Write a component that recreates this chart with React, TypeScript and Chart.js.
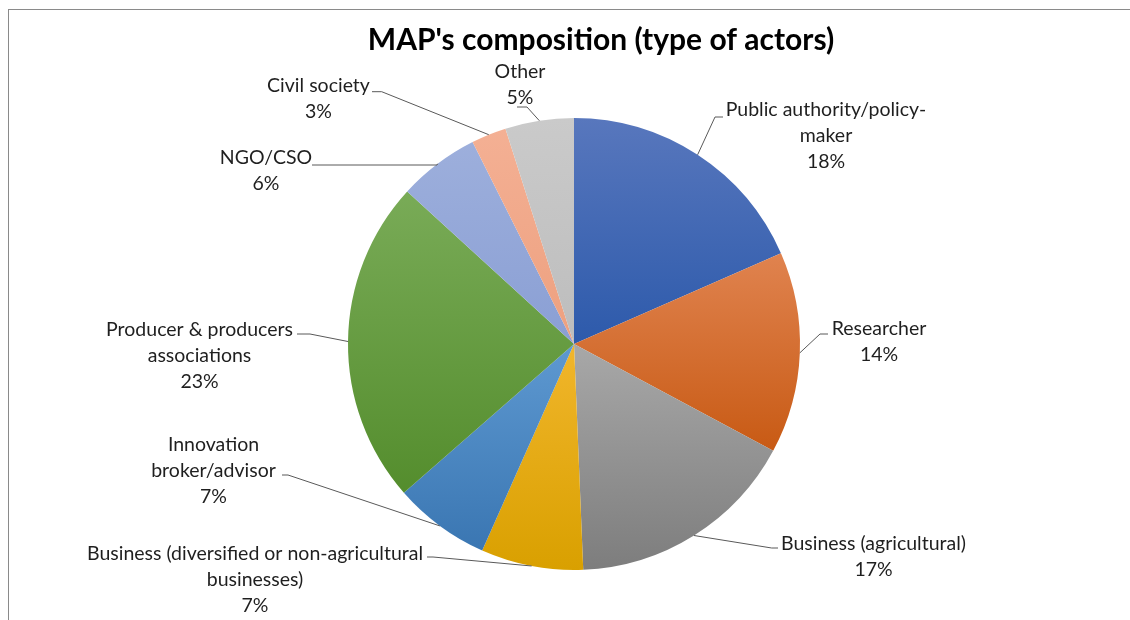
import React, { useEffect, useRef } from "react";
import { Chart, registerables } from "chart.js";

Chart.register(...registerables);

const chartTitle = "MAP's composition (type of actors)";

const categories: string[][] = [
  ["Public authority/policy-", "maker"],
  ["Researcher"],
  ["Business (agricultural)"],
  ["Business (diversified or non-agricultural", "businesses)"],
  ["Innovation", "broker/advisor"],
  ["Producer & producers", "associations"],
  ["NGO/CSO"],
  ["Civil society"],
  ["Other"],
];

const shares: number[] = [18.4, 14.4, 16.5, 7.3, 6.9, 23.2, 5.8, 2.5, 4.9];

const topColors: string[] = [
  "#5877bd",
  "#e0834f",
  "#a8a8a8",
  "#f1b62c",
  "#5e99d1",
  "#79ab57",
  "#9dafdc",
  "#f4b094",
  "#cacaca",
];

const bottomColors: string[] = [
  "#2d5aab",
  "#c85a14",
  "#7d7d7d",
  "#d9a000",
  "#3a76b2",
  "#548d2d",
  "#8a9fd4",
  "#eda07f",
  "#bdbdbd",
];

// label placement relative to the pie centre (px): first-line text centre,
// leader elbow point, and the x where the horizontal leader ends
const labelLayout = [
  { tx: 252, ty: -234, ex: 141, ey: -227, hx: 149 },
  { tx: 305, ty: -15, ex: 246, ey: -10, hx: 254 },
  { tx: 299.5, ty: 199.3, ex: 197.7, ey: 204, hx: 204 },
  { tx: -319, ty: 209.3, ex: -141, ey: 213, hx: -147 },
  { tx: -360.5, ty: 101, ex: -286, ey: 131, hx: -292 },
  { tx: -374.5, ty: -14, ex: -264, ey: -10, hx: -277 },
  { tx: -308, ty: -186, ex: -137, ey: -179, hx: -262 },
  { tx: -255.5, ty: -258, ex: -192.3, ey: -252.3, hx: -202 },
  { tx: -54, ty: -272, ex: -47, ey: -237, hx: -57 },
];

const LABEL_FONT = "19.5px Lato, 'Open Sans', sans-serif";
const TITLE_FONT = "bold 30px Lato, 'Open Sans', sans-serif";
const LINE_H = 26;

function sliceGradient(ctx: any) {
  const i = ctx.dataIndex;
  const chart = ctx.chart;
  const area = chart.chartArea;
  if (!area) return topColors[i];
  const cx = (area.left + area.right) / 2;
  const cy = (area.top + area.bottom) / 2;
  const r = Math.min(area.right - area.left, area.bottom - area.top) / 2;
  const total = shares.reduce((a, b) => a + b, 0);
  let before = 0;
  for (let k = 0; k < i; k++) before += shares[k];
  const a0 = (before / total) * Math.PI * 2;
  const a1 = ((before + shares[i]) / total) * Math.PI * 2;
  const ys = [cy, cy - r * Math.cos(a0), cy - r * Math.cos(a1)];
  if (a0 <= 0 + 1e-9 || a1 >= Math.PI * 2 - 1e-9) ys.push(cy - r);
  if (a0 <= Math.PI && a1 >= Math.PI) ys.push(cy + r);
  const yTop = Math.min(...ys);
  const yBot = Math.max(...ys);
  const g = chart.ctx.createLinearGradient(0, yTop, 0, yBot);
  g.addColorStop(0, topColors[i]);
  g.addColorStop(1, bottomColors[i]);
  return g;
}

const labelPlugin = {
  id: "excelLabels",
  afterDatasetsDraw(chart: any) {
    const ctx = chart.ctx;
    const meta = chart.getDatasetMeta(0);
    const data = chart.data.datasets[0].data as number[];
    const total = data.reduce((a, b) => a + b, 0);
    ctx.save();
    meta.data.forEach((el: any, i: number) => {
      const p = el.getProps(["x", "y", "startAngle", "endAngle", "outerRadius"], true);
      const mid = (p.startAngle + p.endAngle) / 2;
      const ax = p.x + Math.cos(mid) * p.outerRadius;
      const ay = p.y + Math.sin(mid) * p.outerRadius;
      const L = labelLayout[i];
      ctx.beginPath();
      ctx.strokeStyle = "#595959";
      ctx.lineWidth = 1;
      ctx.moveTo(ax, ay);
      ctx.lineTo(p.x + L.ex, p.y + L.ey);
      ctx.lineTo(p.x + L.hx, p.y + L.ey);
      ctx.stroke();
      const lines = [...categories[i], Math.round((data[i] / total) * 100) + "%"];
      ctx.fillStyle = "#1f1f1f";
      ctx.font = LABEL_FONT;
      ctx.textAlign = "center";
      ctx.textBaseline = "middle";
      lines.forEach((t, k) => {
        ctx.fillText(t, p.x + L.tx, p.y + L.ty + k * LINE_H);
      });
    });
    ctx.restore();
  },
  afterDraw(chart: any) {
    const ctx = chart.ctx;
    ctx.save();
    ctx.fillStyle = "#000000";
    ctx.font = TITLE_FONT;
    ctx.textAlign = "center";
    ctx.textBaseline = "middle";
    ctx.fillText(chartTitle, 601, 40);
    ctx.restore();
  },
};

export default function App() {
  const ref = useRef<HTMLCanvasElement | null>(null);
  useEffect(() => {
    if (!ref.current) return;
    const chart = new Chart(ref.current, {
      type: "pie",
      data: {
        labels: categories,
        datasets: [
          {
            data: shares,
            backgroundColor: sliceGradient as any,
            borderWidth: 0,
          },
        ],
      },
      options: {
        responsive: false,
        animation: false,
        events: [],
        layout: { padding: { left: 348, top: 118, right: 330, bottom: 50 } },
        plugins: {
          legend: { display: false },
          tooltip: { enabled: false },
          title: { display: false },
        },
      },
      plugins: [labelPlugin],
    });
    return () => chart.destroy();
  }, []);
  return (
    <div
      style={{
        position: "fixed",
        left: 0,
        top: 0,
        width: 1130,
        height: 620,
        overflow: "hidden",
        background: "#ffffff",
      }}
    >
      <div
        style={{
          position: "absolute",
          left: 8,
          top: 9,
          width: 1200,
          height: 700,
          borderTop: "1px solid #8a8a8a",
          borderLeft: "1px solid #8a8a8a",
        }}
      />
      <canvas
        ref={ref}
        width={1130}
        height={620}
        style={{ position: "absolute", left: 0, top: 0, width: 1130, height: 620 }}
      />
    </div>
  );
}
